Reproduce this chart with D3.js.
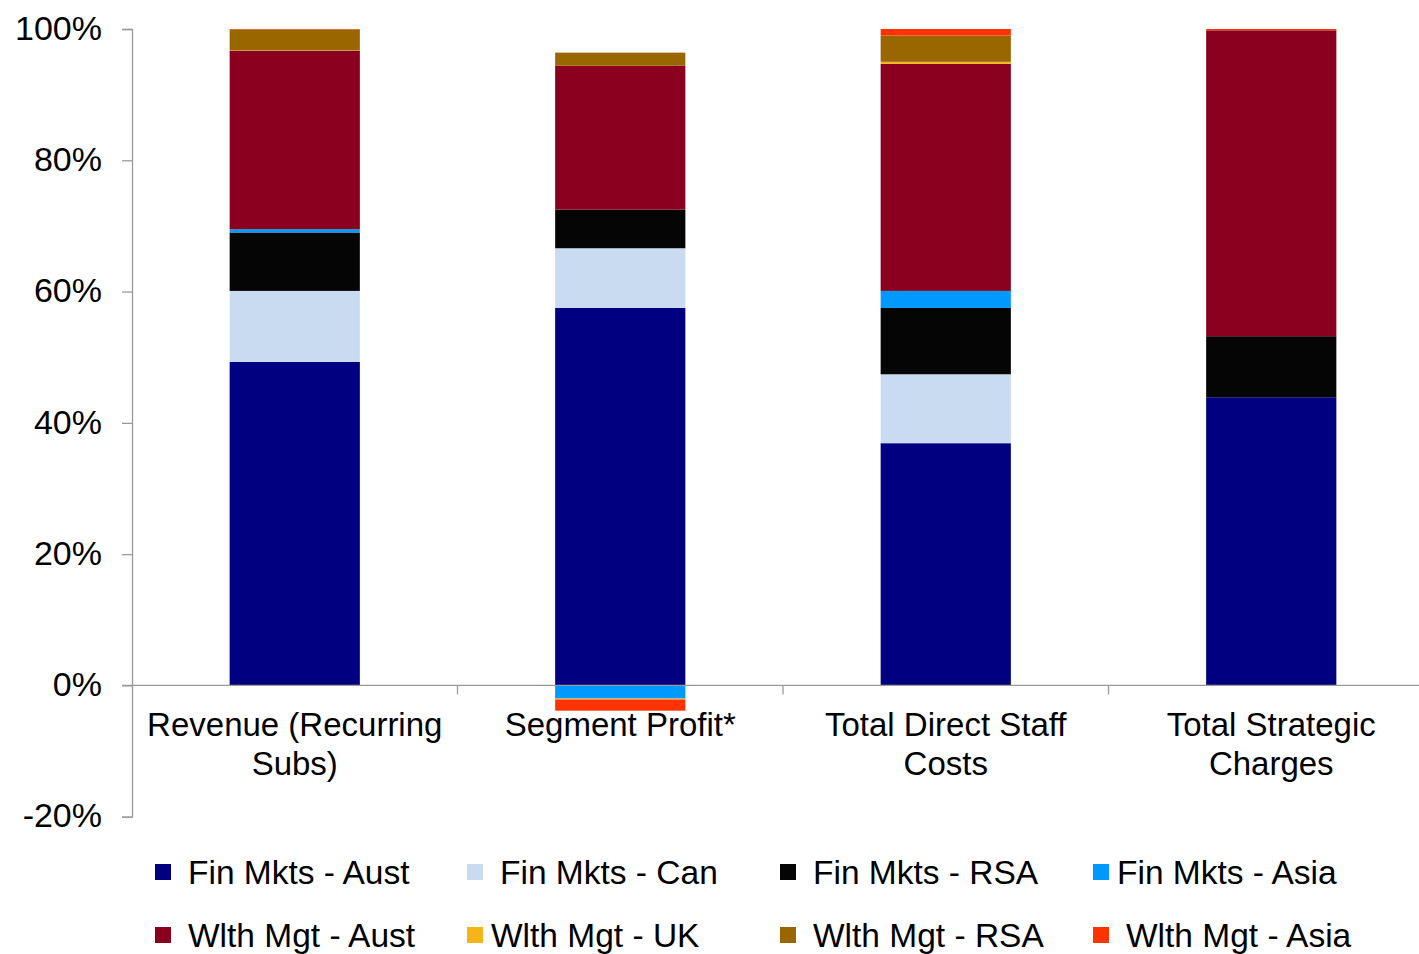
<!DOCTYPE html>
<html>
<head>
<meta charset="utf-8">
<script src="https://cdn.jsdelivr.net/npm/d3@7"></script>
<style>
  html, body { margin: 0; padding: 0; background: #fff; }
  svg { display: block; font-family: "Liberation Sans", Arial, sans-serif; }
</style>
</head>
<body>
<svg id="chart" width="1419" height="954"></svg>
<script>
// Categories (two-line axis labels)
const categories = ["Revenue (Recurring Subs)", "Segment Profit*", "Total Direct Staff Costs", "Total Strategic Charges"];
const categoryLines = [["Revenue (Recurring", "Subs)"], ["Segment Profit*"], ["Total Direct Staff", "Costs"], ["Total Strategic", "Charges"]];

// Share of each category by business segment (%)
const seriesNames = ["Fin Mkts - Aust", "Fin Mkts - Can", "Fin Mkts - RSA", "Fin Mkts - Asia",
                     "Wlth Mgt - Aust", "Wlth Mgt - UK", "Wlth Mgt - RSA", "Wlth Mgt - Asia"];
const finMktsAust = [49.3, 57.5, 36.9, 43.9];
const finMktsCan  = [10.8,  9.1, 10.5,  0.0];
const finMktsRSA  = [ 8.9,  5.9, 10.1,  9.3];
const finMktsAsia = [ 0.5, -2.0,  2.6,  0.0];
const wlthMgtAust = [27.2, 21.9, 34.6, 46.6];
const wlthMgtUK   = [0.05, -0.15, 0.3,  0.0];
const wlthMgtRSA  = [ 3.2,  2.0,  4.0,  0.0];
const wlthMgtAsia = [0.05, -1.7,  1.0,  0.2];
const seriesValues = [finMktsAust, finMktsCan, finMktsRSA, finMktsAsia,
                      wlthMgtAust, wlthMgtUK, wlthMgtRSA, wlthMgtAsia];
const colors = ["#000080", "#C9DBF1", "#050505", "#0099FF",
                "#8B001E", "#F5B417", "#996600", "#FF3300"];
const yTicks = [-20, 0, 20, 40, 60, 80, 100];

const svg = d3.select("#chart");
const plotLeft = 132, plotRight = 1434, plotTop = 29, plotBottom = 816.7;

const rows = categories.map((c, i) => {
  const r = { category: c };
  seriesNames.forEach((s, j) => r[s] = seriesValues[j][i]);
  return r;
});

const x = d3.scaleBand().domain(categories).range([plotLeft, plotRight])
  .paddingInner(0.6).paddingOuter(0.3);
const xEdge = d3.scaleBand().domain(categories).range([plotLeft, plotRight]).padding(0);
const y = d3.scaleLinear().domain([-20, 100]).range([plotBottom, plotTop]);

const stack = d3.stack().keys(seriesNames).offset(d3.stackOffsetDiverging);
const layers = stack(rows);

svg.append("g").selectAll("g").data(layers).join("g")
  .attr("fill", (d, i) => colors[i])
  .selectAll("rect").data(d => d).join("rect")
  .attr("x", d => x(d.data.category))
  .attr("width", x.bandwidth())
  .attr("y", d => y(Math.max(d[0], d[1])))
  .attr("height", d => Math.abs(y(d[0]) - y(d[1])));

const axisColor = "#9a9a9a";

// Y axis
const yAxis = svg.append("g").attr("transform", `translate(${plotLeft},0)`)
  .call(d3.axisLeft(y).tickValues(yTicks).tickSize(10).tickPadding(20)
    .tickFormat(d => d + "%"));
yAxis.select(".domain").attr("stroke", axisColor).attr("stroke-width", 1.3);
yAxis.selectAll(".tick line").attr("stroke", axisColor).attr("stroke-width", 1.3);
yAxis.selectAll(".tick text").attr("font-size", 34).attr("fill", "#000")
  .attr("font-family", "Liberation Sans, Arial, sans-serif").attr("dy", "0.3em");

// X axis at zero with category boundary ticks
const y0 = y(0);
svg.append("line").attr("x1", plotLeft - 10).attr("x2", 1419).attr("y1", y0).attr("y2", y0)
  .attr("stroke", axisColor).attr("stroke-width", 1.3);
svg.append("g").selectAll("line").data(categories.slice(1)).join("line")
  .attr("x1", d => xEdge(d)).attr("x2", d => xEdge(d))
  .attr("y1", y0).attr("y2", y0 + 9)
  .attr("stroke", axisColor).attr("stroke-width", 1.3);

// Category labels
const catG = svg.append("g").selectAll("text").data(categories).join("text")
  .attr("text-anchor", "middle")
  .attr("font-size", 33)
  .attr("fill", "#000");
catG.each(function(d, i) {
  const cx = xEdge(d) + xEdge.bandwidth() / 2;
  d3.select(this).selectAll("tspan").data(categoryLines[i]).join("tspan")
    .attr("x", cx)
    .attr("y", (t, k) => 736 + k * 39)
    .text(t => t);
});

// Legend
const legendX = [155, 467, 780, 1093];
const legendTextX = [188, 500, 813, 1117, 188, 491, 813, 1126];
const legendY = [872, 935];
const legend = svg.append("g").selectAll("g").data(seriesNames).join("g");
legend.append("rect")
  .attr("x", (d, i) => legendX[i % 4])
  .attr("y", (d, i) => legendY[Math.floor(i / 4)] - 8)
  .attr("width", 16).attr("height", 16)
  .attr("fill", (d, i) => colors[i]);
legend.append("text")
  .attr("x", (d, i) => legendTextX[i])
  .attr("y", (d, i) => legendY[Math.floor(i / 4)])
  .attr("dy", "0.35em")
  .attr("font-size", 33.5)
  .attr("fill", "#000")
  .text(d => d);
</script>
</body>
</html>
